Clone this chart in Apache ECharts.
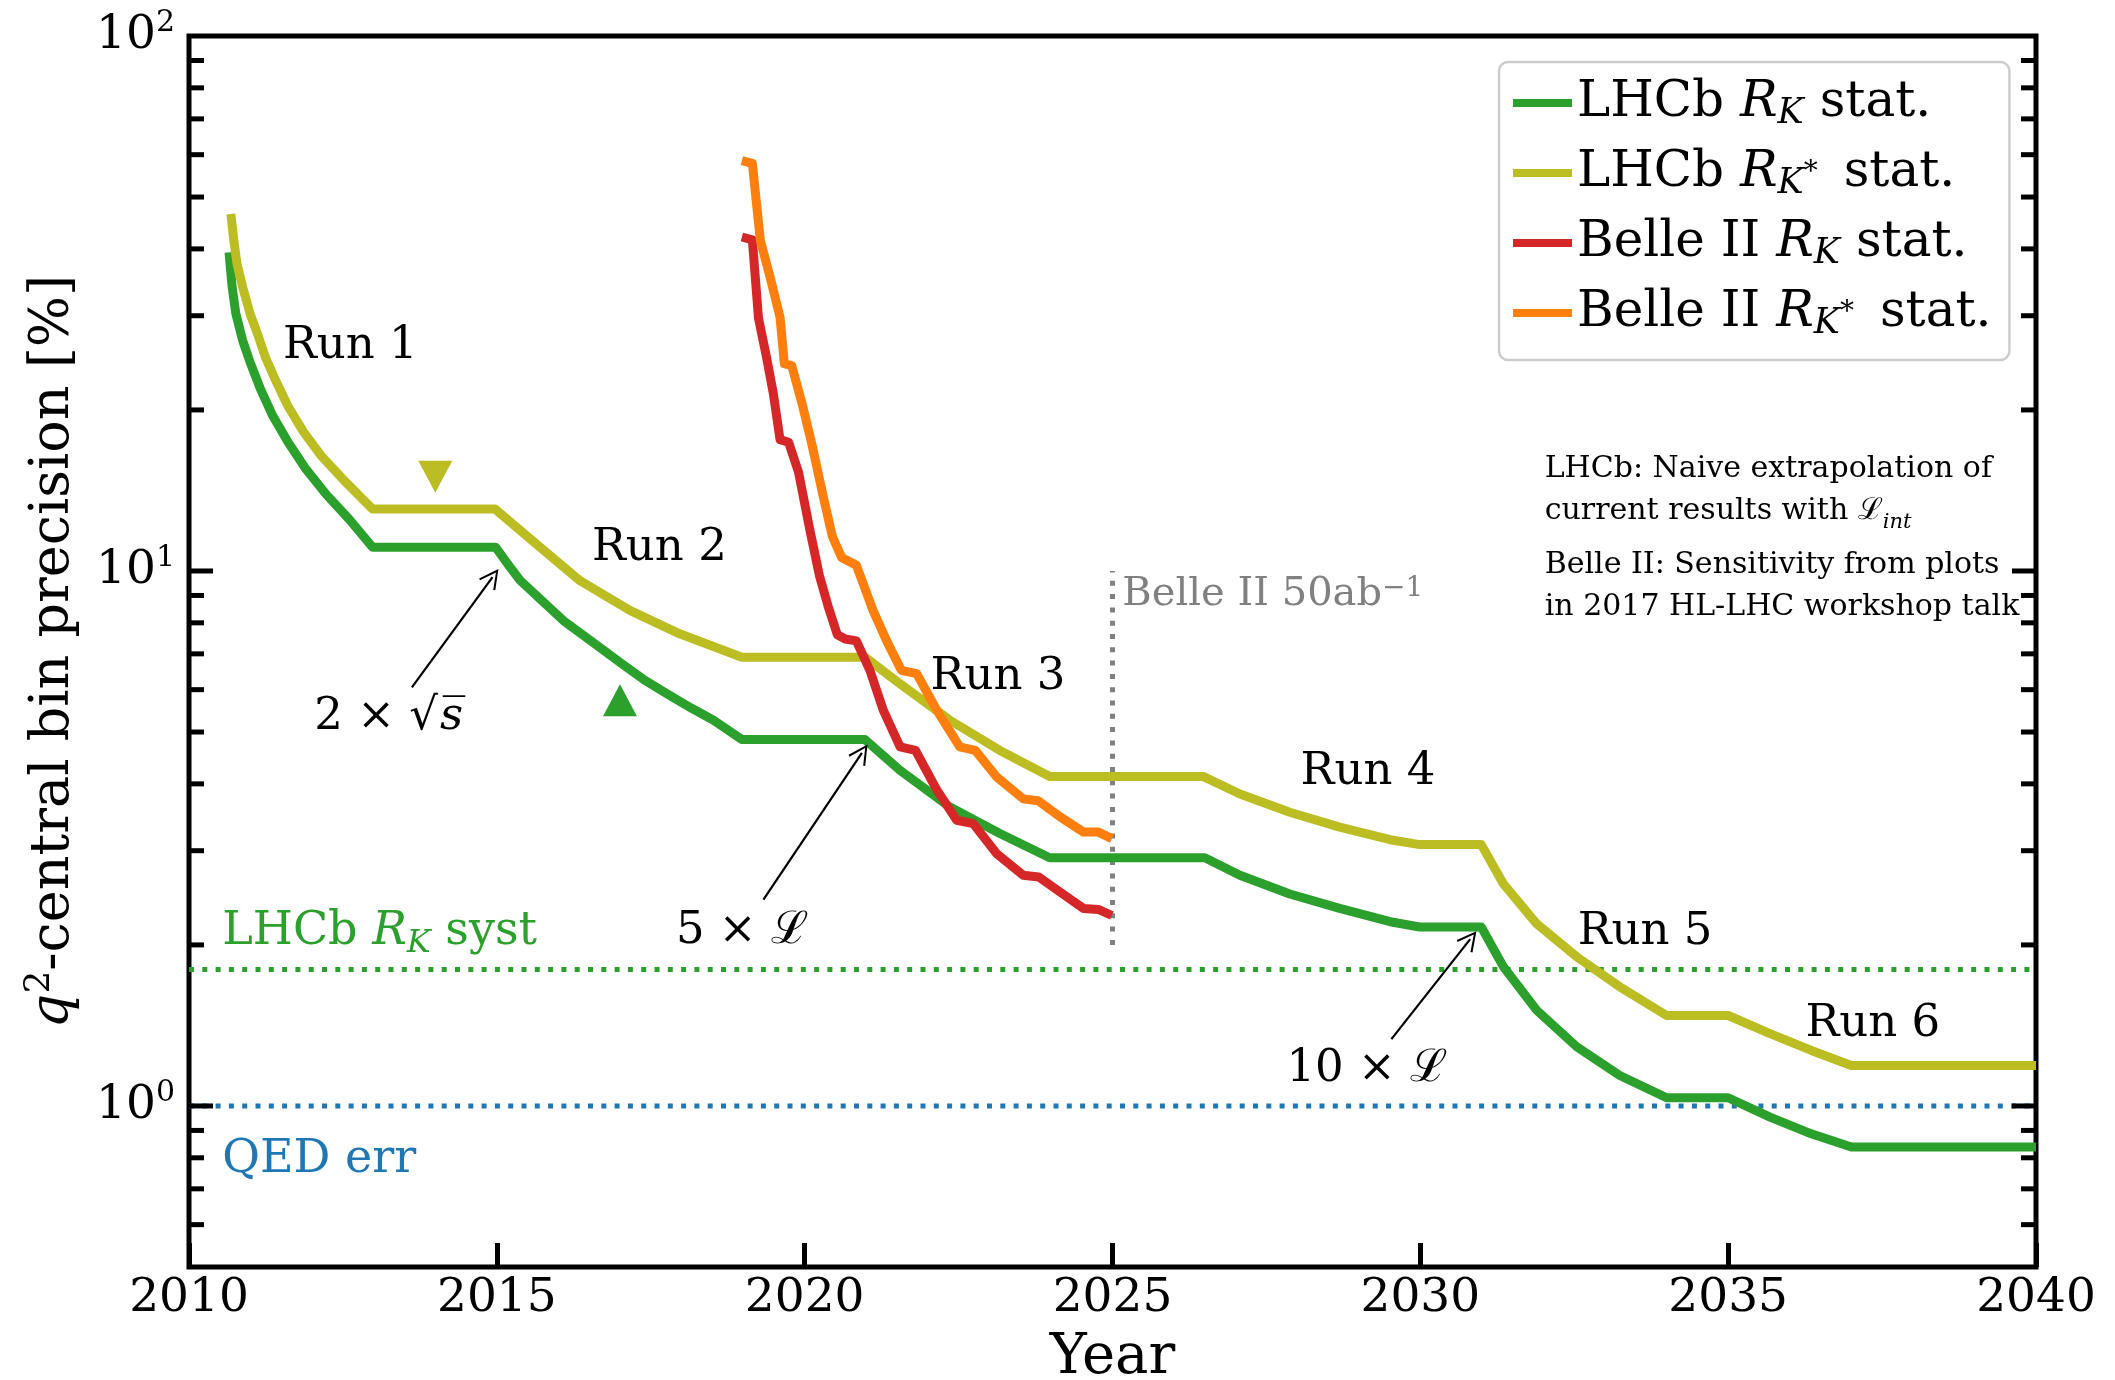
<!DOCTYPE html>
<html>
<head>
<meta charset="utf-8">
<script src="https://cdn.jsdelivr.net/npm/echarts@6/dist/echarts.min.js"></script>
<style>
  html, body { margin: 0; padding: 0; background: #ffffff; }
  #chart { width: 2115px; height: 1380px; }
</style>
</head>
<body>
<div id="chart"></div>
<script>
const FONT = 'DejaVu Serif';

// ---- axis ticks ----
const yearMin = 2010, yearMax = 2040, yearStep = 5;
const precMin = 0.5, precMax = 100;
const yMajorTicks = [1, 10];
const yMinorTicks = [0.6, 0.7, 0.8, 0.9, 2, 3, 4, 5, 6, 7, 8, 9, 20, 30, 40, 50, 60, 70, 80, 90];

// ---- statistical precision [%] vs year ----
const lhcbRK = [
  [2010.65, 39.4], [2010.70, 34.0], [2010.76, 30.3], [2010.87, 27.0], [2010.99, 24.6], [2011.16, 21.9],
  [2011.36, 19.5], [2011.61, 17.4], [2011.90, 15.5], [2012.23, 13.9], [2012.60, 12.5], [2012.98, 11.08],
  [2014.98, 11.08], [2015.22, 10.15], [2015.38, 9.6], [2016.08, 8.08], [2016.55, 7.37], [2017.0, 6.75],
  [2017.4, 6.25], [2017.76, 5.9], [2018.15, 5.55], [2018.52, 5.26], [2018.98, 4.84],
  [2020.98, 4.84], [2021.55, 4.24], [2022.36, 3.62], [2023.17, 3.23], [2023.98, 2.91],
  [2026.5, 2.91], [2027.07, 2.7], [2027.88, 2.49], [2028.69, 2.34], [2029.51, 2.21], [2029.99, 2.16],
  [2030.99, 2.16], [2031.35, 1.82], [2031.89, 1.51], [2032.54, 1.29], [2033.24, 1.14], [2034.0, 1.036],
  [2035.0, 1.036], [2035.68, 0.953], [2036.35, 0.887], [2037.0, 0.838], [2040.0, 0.838]
];
const lhcbRKstar = [
  [2010.68, 46.5], [2010.73, 41.3], [2010.78, 37.5], [2010.87, 34.0], [2010.99, 30.3], [2011.12, 27.6],
  [2011.24, 25.1], [2011.40, 22.8], [2011.61, 20.3], [2011.86, 18.2], [2012.15, 16.4], [2012.56, 14.6], [2012.98, 13.06],
  [2014.97, 13.06], [2015.54, 11.49], [2016.35, 9.59], [2017.16, 8.44], [2017.97, 7.63], [2018.98, 6.9],
  [2020.98, 6.9], [2021.55, 6.15], [2022.36, 5.26], [2023.17, 4.62], [2023.98, 4.13],
  [2026.47, 4.13], [2027.07, 3.83], [2027.88, 3.54], [2028.69, 3.32], [2029.51, 3.145], [2029.99, 3.08],
  [2030.99, 3.08], [2031.35, 2.6], [2031.89, 2.19], [2032.54, 1.9], [2033.24, 1.67], [2034.0, 1.476],
  [2035.0, 1.476], [2035.68, 1.365], [2036.35, 1.27], [2037.0, 1.19], [2040.0, 1.19]
];
const belleRK = [
  [2018.98, 42.1], [2019.15, 41.6], [2019.25, 29.7], [2019.38, 25.1], [2019.49, 21.5], [2019.6, 17.6], [2019.74, 17.4],
  [2019.9, 15.3], [2020.08, 12.0], [2020.24, 9.8], [2020.38, 8.6], [2020.53, 7.6], [2020.66, 7.46], [2020.84, 7.4],
  [2021.06, 6.52], [2021.28, 5.48], [2021.55, 4.69], [2021.8, 4.62], [2022.15, 3.89], [2022.47, 3.42], [2022.74, 3.37],
  [2023.12, 2.96], [2023.55, 2.7], [2023.8, 2.68], [2024.15, 2.51], [2024.53, 2.34], [2024.77, 2.33], [2024.99, 2.27]
];
const belleRKstar = [
  [2018.98, 58.5], [2019.15, 57.8], [2019.28, 41.5], [2019.45, 35.0], [2019.6, 29.8], [2019.67, 24.4], [2019.79, 24.2],
  [2019.96, 20.5], [2020.12, 17.2], [2020.3, 13.8], [2020.45, 11.6], [2020.6, 10.6], [2020.84, 10.25],
  [2021.11, 8.44], [2021.33, 7.41], [2021.57, 6.52], [2021.82, 6.43], [2022.15, 5.48], [2022.52, 4.69], [2022.77, 4.62],
  [2023.12, 4.12], [2023.55, 3.75], [2023.79, 3.72], [2024.15, 3.47], [2024.53, 3.25], [2024.77, 3.25], [2024.99, 3.16]
];

// reference levels
const lhcbRKsyst = 1.8;
const qedErr = 1.0;
const belleFullYear = 2025;
const belleFullSpan = [2, 10];

// centre-of-mass energy markers (year, precision)
const energyDown = [2014, 15.0];
const energyUp = [2017, 5.73];

// run period labels
const runLabels = [
  ['Run 1', 2012.62, 26.8],
  ['Run 2', 2017.64, 11.24],
  ['Run 3', 2023.14, 6.45],
  ['Run 4', 2029.15, 4.28],
  ['Run 5', 2033.65, 2.145],
  ['Run 6', 2037.35, 1.445]
];

// upgrade annotations: text, text centre, arrow tail, arrow head
const upgradeNotes = [
  ['2 × √{ov|s\u0305}', [2013.26, 5.41], [2013.62, 6.06], [2014.93, 9.74]],
  ['5 × ℒ', [2018.98, 2.16], [2019.33, 2.43], [2020.93, 4.57]],
  ['10 × ℒ', [2029.13, 1.193], [2029.53, 1.333], [2030.81, 2.05]]
];

const C = {
  green: '#2ca02c', olive: '#bcbd22', red: '#d62728', orange: '#ff7f0e',
  blue: '#1f77b4', grey: '#808080'
};

const legendNames = {
  'LHCb RK': 'LHCb {i|R}{k|K} stat.',
  'LHCb RK*': 'LHCb {i|R}{k|K}{st|*} stat.',
  'Belle II RK': 'Belle II {i|R}{k|K} stat.',
  'Belle II RK*': 'Belle II {i|R}{k|K}{st|*} stat.'
};

function statLine(name, data, color, z) {
  return {
    name, type: 'line', data, color, z,
    showSymbol: false, symbol: 'none', silent: true,
    lineStyle: { color, width: 9, join: 'round', cap: 'butt' }
  };
}

function dottedLine(data, color) {
  return {
    type: 'line', data, silent: true, showSymbol: false, symbol: 'none', z: 2,
    lineStyle: { color, width: 5, type: [5, 8.3], cap: 'butt' }
  };
}

const textSeriesBase = {
  type: 'scatter', silent: true, symbol: 'circle', symbolSize: 1,
  itemStyle: { color: 'rgba(0,0,0,0)', opacity: 1 }, z: 6
};
const TEXT_SHIFT = [0, 4];

const arrowHead = 'path://M0,0 L10,19 L8.2,20 L0,4.2 L-8.2,20 L-10,19 Z';

const chart = echarts.init(document.getElementById('chart'), null, { renderer: 'canvas' });

chart.setOption({
  animation: false,
  backgroundColor: '#ffffff',
  grid: {
    left: 189, right: 79, top: 36, bottom: 113,
    outerBoundsMode: 'none', containLabel: false,
    show: true, borderColor: '#000000', borderWidth: 5, backgroundColor: 'transparent'
  },
  xAxis: {
    type: 'value', min: yearMin, max: yearMax, interval: yearStep,
    axisLine: { show: false },
    axisTick: { show: true, inside: true, length: 24, lineStyle: { color: '#000', width: 5 } },
    splitLine: { show: false },
    axisLabel: { fontFamily: FONT, fontSize: 47, color: '#000', margin: 8, formatter: v => String(v) },
    name: 'Year', nameLocation: 'middle', nameGap: 63,
    nameTextStyle: { fontFamily: FONT, fontSize: 56, color: '#000' }
  },
  yAxis: {
    type: 'log', logBase: 10, min: precMin, max: precMax,
    axisLine: { show: false },
    axisTick: { show: false },
    minorTick: { show: false },
    splitLine: { show: false },
    axisLabel: {
      margin: 14,
      formatter: v => {
        const e = Math.log10(v);
        const r = Math.round(e);
        if (Math.abs(e - r) > 1e-6) return '';
        return '{b|10}{s|' + r + '}';
      },
      rich: {
        b: { fontFamily: FONT, fontSize: 47, color: '#000', lineHeight: 56 },
        s: { fontFamily: FONT, fontSize: 30, color: '#000', lineHeight: 44, verticalAlign: 'top' }
      }
    },
    name: '{q|q}{s|2}-central bin precision [%]',
    nameLocation: 'middle', nameRotate: 90, nameGap: 103,
    nameTextStyle: {
      fontFamily: FONT, fontSize: 54, color: '#000',
      rich: {
        q: { fontFamily: FONT, fontStyle: 'italic', fontSize: 54, color: '#000', lineHeight: 64 },
        s: { fontFamily: FONT, fontSize: 36, color: '#000', lineHeight: 42, verticalAlign: 'top' }
      }
    }
  },
  legend: {
    data: Object.keys(legendNames),
    orient: 'vertical', left: 1499, top: 62,
    padding: [13, 18, 19, 14], itemGap: 14,
    itemWidth: 59, itemHeight: 8, icon: 'rect',
    borderColor: '#cccccc', borderWidth: 2.5, borderRadius: 9,
    backgroundColor: 'rgba(255,255,255,0.85)',
    selectedMode: false,
    formatter: name => legendNames[name],
    textStyle: {
      fontFamily: FONT, fontSize: 50, color: '#000', lineHeight: 56,
      rich: {
        i: { fontFamily: FONT, fontStyle: 'italic', fontSize: 50, color: '#000', lineHeight: 56 },
        k: { fontFamily: FONT, fontStyle: 'italic', fontSize: 35, color: '#000', lineHeight: 29, verticalAlign: 'bottom' },
        st: { fontFamily: FONT, fontSize: 28, color: '#000', lineHeight: 56, padding: [0, 10, 0, 0] }
      }
    }
  },
  series: [
    // reference levels
    dottedLine([[yearMin, lhcbRKsyst], [yearMax, lhcbRKsyst]], C.green),
    dottedLine([[yearMin, qedErr], [yearMax, qedErr]], C.blue),
    dottedLine([[belleFullYear, belleFullSpan[0]], [belleFullYear, belleFullSpan[1]]], C.grey),

    // projections
    statLine('LHCb RK', lhcbRK, C.green, 3),
    statLine('LHCb RK*', lhcbRKstar, C.olive, 3),
    statLine('Belle II RK', belleRK, C.red, 4),
    statLine('Belle II RK*', belleRKstar, C.orange, 4),

    // energy markers
    {
      type: 'scatter', silent: true, z: 5, symbolSize: [34, 32],
      data: [
        { value: energyDown, symbol: 'triangle', symbolRotate: 180, itemStyle: { color: C.olive, opacity: 1 } },
        { value: energyUp, symbol: 'triangle', itemStyle: { color: C.green, opacity: 1 } }
      ]
    },

    // y-axis ticks on both sides (major and minor)
    {
      type: 'custom', silent: true, clip: false, z: 8,
      data: yMajorTicks.map(v => [yearMin, v, 1]).concat(yMinorTicks.map(v => [yearMin, v, 0])),
      encode: { x: 0, y: 1 },
      renderItem: (params, api) => {
        const v = api.value(1);
        const len = api.value(2) === 1 ? 24 : 15;
        const l = api.coord([yearMin, v]);
        const r = api.coord([yearMax, v]);
        const style = { stroke: '#000', lineWidth: 5 };
        return {
          type: 'group',
          children: [
            { type: 'line', shape: { x1: l[0], y1: l[1], x2: l[0] + len, y2: l[1] }, style },
            { type: 'line', shape: { x1: r[0] - len, y1: r[1], x2: r[0], y2: r[1] }, style }
          ]
        };
      }
    },

    // run labels
    Object.assign({}, textSeriesBase, {
      data: runLabels.map(d => ({ name: d[0], value: [d[1], d[2]] })),
      label: {
        show: true, position: 'inside', formatter: '{b}', offset: TEXT_SHIFT,
        fontFamily: FONT, fontSize: 45, color: '#000'
      }
    }),

    // reference level captions
    Object.assign({}, textSeriesBase, {
      data: [
        { name: 'syst', value: [2010.54, 2.147], label: { formatter: 'LHCb {i|R}{k|K} syst', color: C.green } },
        { name: 'qed', value: [2010.54, 0.805], label: { formatter: 'QED err', color: C.blue } },
        { name: 'belle', value: [2025.16, 9.18], label: { formatter: 'Belle II 50ab{e|−1}', color: C.grey, fontSize: 40 } }
      ],
      label: {
        show: true, position: 'inside', align: 'left', offset: TEXT_SHIFT,
        fontFamily: FONT, fontSize: 46,
        rich: {
          i: { fontFamily: FONT, fontStyle: 'italic', fontSize: 46, color: C.green, lineHeight: 54 },
          k: { fontFamily: FONT, fontStyle: 'italic', fontSize: 32, color: C.green, lineHeight: 28, verticalAlign: 'bottom' },
          e: { fontFamily: FONT, fontSize: 28, color: C.grey, lineHeight: 30, verticalAlign: 'top' }
        }
      }
    }),

    // method notes
    Object.assign({}, textSeriesBase, {
      data: [
        { name: 'n1', value: [2032.02, 14.38], label: { formatter: 'LHCb: Naive extrapolation of\ncurrent results with {l|ℒ}{s|int}' } },
        { name: 'n2', value: [2032.02, 9.54], label: { formatter: 'Belle II: Sensitivity from plots\nin 2017 HL-LHC workshop talk' } }
      ],
      label: {
        show: true, position: 'inside', align: 'left', offset: TEXT_SHIFT,
        fontFamily: FONT, fontSize: 30, color: '#000', lineHeight: 42,
        rich: {
          l: { fontFamily: FONT, fontSize: 30, color: '#000', lineHeight: 42 },
          s: { fontFamily: FONT, fontStyle: 'italic', fontSize: 21, color: '#000', lineHeight: 30, verticalAlign: 'bottom' }
        }
      }
    }),

    // upgrade annotations with arrows
    Object.assign({}, textSeriesBase, {
      data: upgradeNotes.map(d => ({ name: d[0], value: d[1] })),
      label: {
        show: true, position: 'inside', formatter: '{b}', offset: TEXT_SHIFT,
        fontFamily: FONT, fontSize: 45, color: '#000',
        rich: {
          ov: { fontFamily: FONT, fontStyle: 'italic', fontSize: 45, color: '#000', padding: [0, 2, 0, 2] }
        }
      },
      markLine: {
        silent: true, animation: false,
        symbol: ['none', arrowHead], symbolSize: [20, 20],
        label: { show: false },
        lineStyle: { color: '#000', width: 2.2, type: 'solid' },
        data: upgradeNotes.map(d => [{ coord: d[2] }, { coord: d[3] }])
      }
    })
  ]
});
</script>
</body>
</html>
